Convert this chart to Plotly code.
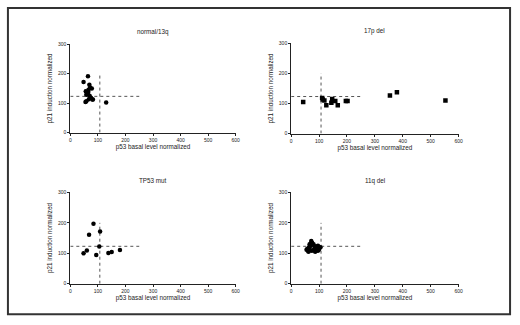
import plotly.graph_objects as go

# panel names, in reading order
PANELS = ["normal/13q", "17p del", "TP53 mut", "11q del"]

# p53 basal level (x) and p21 induction (y)
NORMAL_X = [48, 64, 69, 72, 78, 56, 60, 62, 65, 58, 66, 70, 75, 80, 67, 58, 55, 62, 82, 130]
NORMAL_Y = [172, 191, 162, 153, 150, 140, 135, 130, 138, 128, 145, 125, 118, 112, 113, 106, 104, 133, 112, 102]

DEL17P_X = [43, 111, 113, 119, 126, 144, 147, 158, 167, 196, 202, 354, 379, 553]
DEL17P_Y = [105, 118, 113, 110, 94, 102, 115, 108, 94, 108, 108, 126, 137, 110]

TP53_X = [48, 60, 68, 84, 94, 108, 105, 138, 150, 180]
TP53_Y = [100, 109, 161, 197, 94, 172, 122, 101, 104, 111]

DEL11Q_X = [55, 60, 65, 70, 75, 80, 85, 90, 95, 100, 105, 62, 68, 72, 78, 88, 92, 98, 58, 66, 74, 82, 86, 96, 102, 70, 64, 80]
DEL11Q_Y = [112, 108, 118, 125, 135, 130, 120, 112, 108, 115, 120, 105, 110, 140, 128, 122, 118, 110, 115, 130, 108, 112, 105, 125, 118, 132, 120, 110]

# cut-off lines drawn in every panel
CUT_X = 107
CUT_X_TOP = 200
CUT_Y = 123
CUT_Y_RIGHT = 250

X_TICKS = [0, 100, 200, 300, 400, 500, 600]
Y_TICKS = [0, 100, 200, 300]
X_TITLE = "p53 basal level normalized"
Y_TITLE = "p21 induction normalized"

W, H = 520, 325
FONT = "Liberation Sans, Arial, sans-serif"
INK = "#222"

series = [(NORMAL_X, NORMAL_Y, "circle"), (DEL17P_X, DEL17P_Y, "square"),
          (TP53_X, TP53_Y, "circle"), (DEL11Q_X, DEL11Q_Y, "circle")]

# plot areas in pixels: (left, right, bottom, top)
boxes = [(70, 237, 132, 42), (293, 462, 133, 41), (70, 237, 286, 193), (293, 462, 286, 193)]

fig = go.Figure()
layout = dict(width=W, height=H, margin=dict(l=0, r=0, t=0, b=0),
              plot_bgcolor="white", paper_bgcolor="white", showlegend=False,
              font=dict(family=FONT, color=INK, size=6))
annotations = []

for n, (name, (xs, ys, sym), (l, r, b, t)) in enumerate(zip(PANELS, series, boxes), start=1):
    xa = "x" if n == 1 else f"x{n}"
    ya = "y" if n == 1 else f"y{n}"
    fig.add_trace(go.Scatter(x=[CUT_X, CUT_X], y=[0, CUT_X_TOP], mode="lines",
                             line=dict(color="#555", width=1, dash="dot"), xaxis=xa, yaxis=ya))
    fig.add_trace(go.Scatter(x=[0, CUT_Y_RIGHT], y=[CUT_Y, CUT_Y], mode="lines",
                             line=dict(color="#555", width=1, dash="dot"), xaxis=xa, yaxis=ya))
    fig.add_trace(go.Scatter(x=xs, y=ys, mode="markers",
                             marker=dict(color="black", size=4.5, symbol=sym),
                             xaxis=xa, yaxis=ya))

    common = dict(showgrid=False, zeroline=False, showline=True, linecolor=INK, linewidth=1,
                  ticks="outside", ticklen=2, tickwidth=1, tickcolor=INK,
                  tickfont=dict(size=5, family=FONT, color=INK))
    layout["xaxis" if n == 1 else f"xaxis{n}"] = dict(
        common, domain=[l / W, r / W], range=[0, 600], tickvals=X_TICKS,
        anchor=ya, title=dict(text=X_TITLE, font=dict(size=6.3), standoff=2))
    layout["yaxis" if n == 1 else f"yaxis{n}"] = dict(
        common, domain=[1 - b / H, 1 - t / H], range=[0, 300], tickvals=Y_TICKS,
        anchor=xa, title=dict(text=Y_TITLE, font=dict(size=6.3), standoff=4))

    annotations.append(dict(text=name, x=(l + r) / 2 / W, y=1 - (t - 12) / H, xref="paper", yref="paper",
                            showarrow=False, font=dict(size=6.3), xanchor="center", yanchor="middle"))

layout["annotations"] = annotations
layout["shapes"] = [dict(type="rect", xref="paper", yref="paper",
                         x0=7 / W, x1=514 / W, y0=1 - 317 / H, y1=1 - 5 / H,
                         line=dict(color="#333", width=2))]
fig.update_layout(**layout)

# drop the default page margin so the 520x325 figure sits flush in the window
fig.write_html("out.html", config={"displayModeBar": False},
               post_script="document.body.style.margin='0';")
